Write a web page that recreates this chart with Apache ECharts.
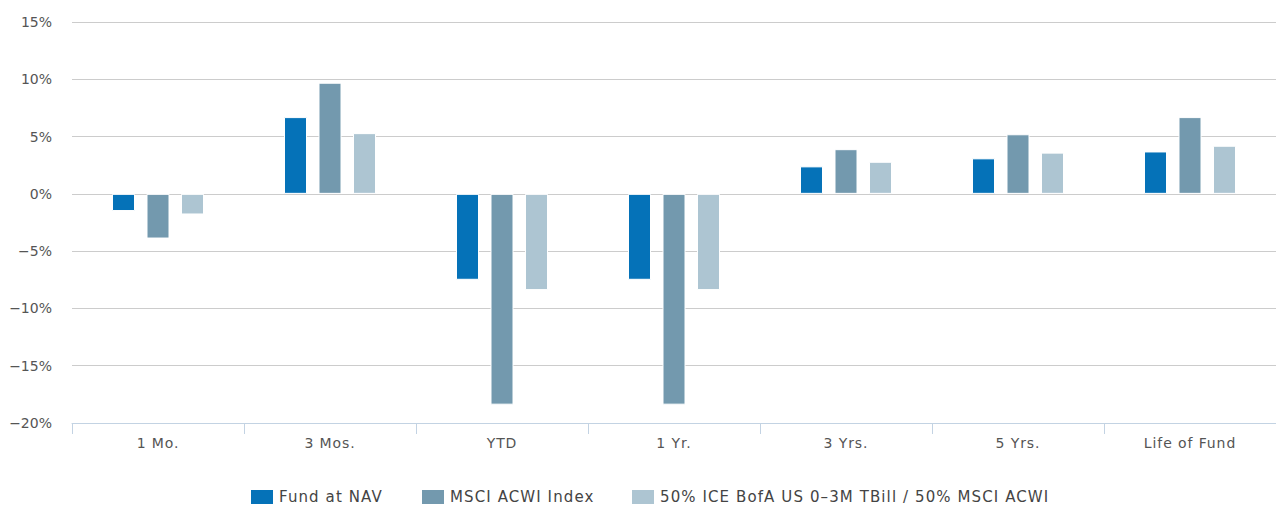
<!DOCTYPE html>
<html>
<head>
<meta charset="utf-8">
<script src="https://cdn.jsdelivr.net/npm/echarts@6/dist/echarts.min.js"></script>
<style>
  html, body { margin: 0; padding: 0; background: #fff; }
  #chart { width: 1276px; height: 506px; }
</style>
</head>
<body>
<div id="chart"></div>
<script>
// Trailing-period returns, in percent
const categories = ['1 Mo.', '3 Mos.', 'YTD', '1 Yr.', '3 Yrs.', '5 Yrs.', 'Life of Fund'];
const fundAtNav = [-1.5, 6.7, -7.5, -7.5, 2.4, 3.1, 3.7];
const msciAcwi = [-3.9, 9.7, -18.4, -18.4, 3.9, 5.2, 6.7];
const blended = [-1.8, 5.3, -8.4, -8.4, 2.8, 3.6, 4.2];
const seriesNames = ['Fund at NAV', 'MSCI ACWI Index', '50% ICE BofA US 0\u20133M TBill / 50% MSCI ACWI'];
const seriesColors = ['#0572b8', '#7399ae', '#adc5d2'];
const legendLefts = [249, 420, 630];

const chart = echarts.init(document.getElementById('chart'), null, { renderer: 'svg' });
const font = '"DejaVu Sans", "Open Sans", sans-serif';

function fmtPct(v) {
  return (v < 0 ? '\u2212' + Math.abs(v) : v) + '%';
}

const seriesData = [fundAtNav, msciAcwi, blended];

chart.setOption({
  animation: false,
  textStyle: { fontFamily: font },
  grid: { left: 72, right: 0, top: 22, bottom: 83 },
  legend: seriesNames.map((name, i) => ({
    top: 488,
    left: legendLefts[i],
    padding: 0,
    itemWidth: 24,
    itemHeight: 16,
    icon: 'rect',
    textStyle: { fontFamily: font, fontSize: 15, lineHeight: 17, color: '#444' },
    data: [name]
  })),
  xAxis: {
    type: 'category',
    data: categories,
    axisLine: { show: true, onZero: false, lineStyle: { color: '#c3d3e3', width: 1 } },
    axisTick: { show: true, length: 11, lineStyle: { color: '#c3d3e3' } },
    axisLabel: { fontFamily: font, fontSize: 14, color: '#555', margin: 13 }
  },
  yAxis: {
    type: 'value',
    min: -20,
    max: 15,
    interval: 5,
    axisLine: { show: false },
    axisTick: { show: false },
    splitLine: { lineStyle: { color: '#cccccc', width: 1 } },
    axisLabel: { fontFamily: font, fontSize: 14, color: '#555', margin: 20, formatter: fmtPct }
  },
  series: seriesNames.map((name, i) => ({
    name: name,
    type: 'bar',
    data: seriesData[i],
    barWidth: 23,
    barGap: '50%',
    itemStyle: { color: seriesColors[i], borderColor: '#ffffff', borderWidth: 1 }
  }))
});

// Slightly open tracking on category and legend labels
function spaceLabels() {
  const legendSet = new Set(seriesNames);
  const catSet = new Set(categories);
  chart.getDom().querySelectorAll('text').forEach(t => {
    const s = t.textContent;
    if (legendSet.has(s)) t.style.letterSpacing = '1.1px';
    else if (catSet.has(s)) t.style.letterSpacing = '0.9px';
  });
}
chart.on('finished', spaceLabels);
spaceLabels();
</script>
</body>
</html>
